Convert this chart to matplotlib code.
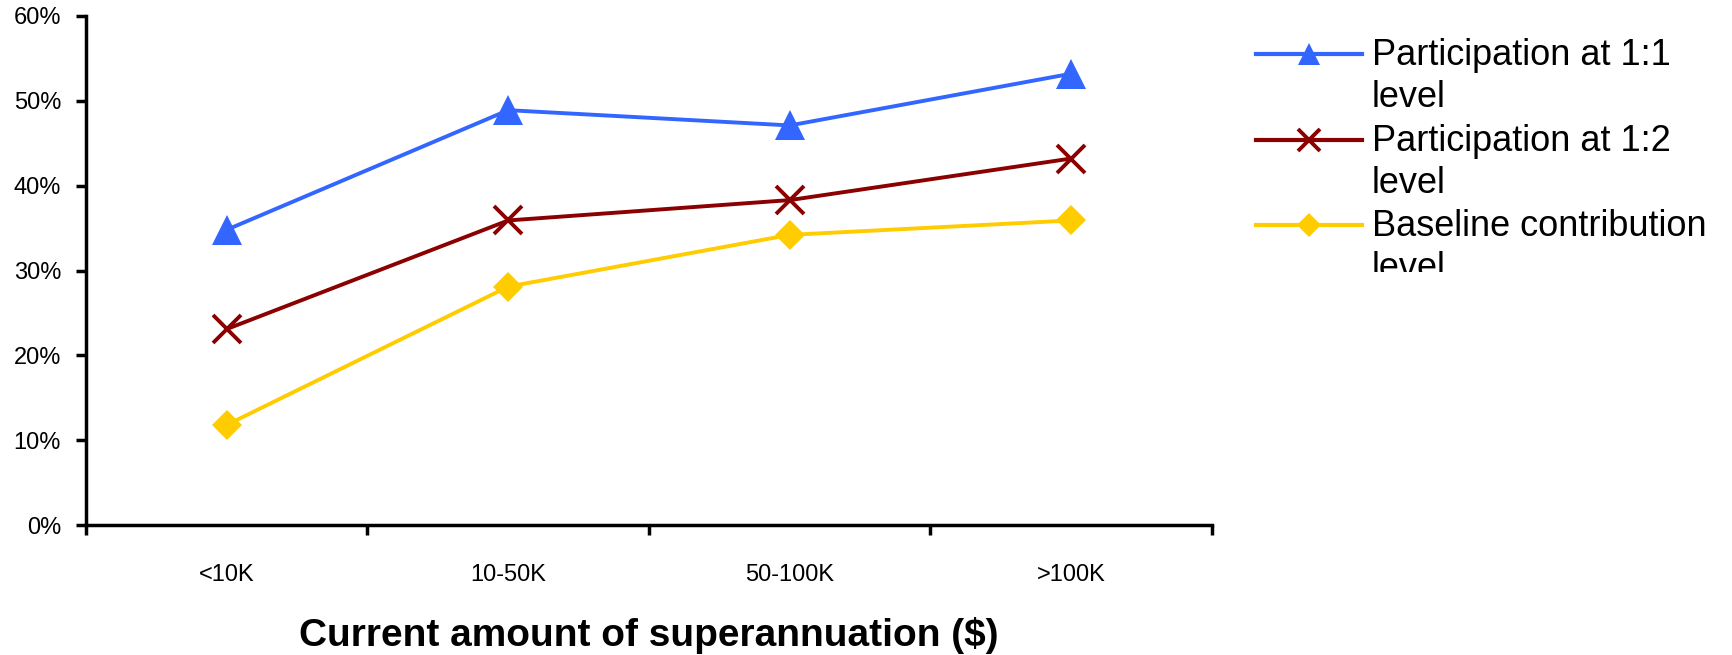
import matplotlib
matplotlib.use("Agg")
import matplotlib.pyplot as plt
from matplotlib.ticker import PercentFormatter
import numpy as np

# Data: share of people (%) by current superannuation balance
categories = ["<10K", "10-50K", "50-100K", ">100K"]
participation_1_1 = [34.8, 48.9, 47.1, 53.2]
participation_1_2 = [23.1, 35.9, 38.3, 43.2]
baseline_level = [11.8, 28.1, 34.2, 35.9]
series_labels = [
    ["Participation at 1:1", "level"],
    ["Participation at 1:2", "level"],
    ["Baseline contribution", "level"],
]
y_ticks = [0, 10, 20, 30, 40, 50, 60]
x_title = "Current amount of superannuation ($)"

plt.rcParams["font.family"] = ["Liberation Sans", "DejaVu Sans"]

W, H = 1733, 655
fig = plt.figure(figsize=(W / 100, H / 100), dpi=100)
fig.patch.set_facecolor("white")

# main plotting area (figure pixels)
ax_l, ax_r, ax_b, ax_t = 86, 1212, 525, 16
ax = fig.add_axes([ax_l / W, 1 - ax_b / H, (ax_r - ax_l) / W, (ax_b - ax_t) / H])

styles = [
    dict(color="#3366FF", marker="^", ms=21, leg_ms=16.5, mew=0),
    dict(color="#8B0000", marker="x", ms=20, leg_ms=16, mew=2.8),
    dict(color="#FFCC00", marker="D", ms=15, leg_ms=12.5, mew=0),
]
series = [participation_1_1, participation_1_2, baseline_level]

x = np.arange(len(categories))
for vals, st in zip(series, styles):
    ax.plot(x, vals, color=st["color"], lw=2.8, marker=st["marker"],
            ms=st["ms"], mew=st["mew"], mec=st["color"], mfc=st["color"],
            clip_on=False, zorder=3)

ax.set_xlim(-0.5, len(categories) - 0.5)
ax.set_ylim(0, 60)
ax.set_yticks(y_ticks)
ax.yaxis.set_major_formatter(PercentFormatter(xmax=100, decimals=0))
ax.set_xticks(x)
ax.set_xticklabels(categories)
ax.set_xticks(np.arange(len(categories) + 1) - 0.5, minor=True)

for side in ("top", "right"):
    ax.spines[side].set_visible(False)
for side in ("left", "bottom"):
    ax.spines[side].set_linewidth(2.5)
    ax.spines[side].set_color("black")
    ax.spines[side].set_capstyle("projecting")

ax.tick_params(axis="x", which="major", length=0, pad=28, labelsize=17)
ax.tick_params(axis="x", which="minor", length=7, width=2.5, direction="out")
ax.tick_params(axis="y", which="major", length=7, width=2.5, direction="out",
               pad=11, labelsize=17)

ax.set_xlabel(x_title, fontsize=28, fontweight="bold", va="center")
ax.xaxis.set_label_coords(0.5, (ax_b - 636) / (ax_b - ax_t))

# legend block, clipped to its frame
lg_l, lg_r, lg_t, lg_b = 1240, 1716, 0, 272
lax = fig.add_axes([lg_l / W, 1 - lg_b / H, (lg_r - lg_l) / W, (lg_b - lg_t) / H])
lax.set_xlim(lg_l, lg_r)
lax.set_ylim(lg_b, lg_t)
lax.axis("off")

row_y = [54, 140, 225]
for lines, st, ry in zip(series_labels, styles, row_y):
    lax.plot([1256, 1362], [ry, ry], color=st["color"], lw=3, clip_on=False)
    lax.plot([1309], [ry], color=st["color"], marker=st["marker"],
             ms=st["leg_ms"], mew=st["mew"], mec=st["color"], mfc=st["color"],
             clip_on=False)
    for k, line in enumerate(lines):
        t = lax.text(1372, ry + 11 + 42 * k, line, fontsize=26,
                     va="baseline", ha="left")
        t.set_clip_box(lax.bbox)
        t.set_clip_on(True)

fig.savefig("out.png", dpi=100, facecolor="white")
